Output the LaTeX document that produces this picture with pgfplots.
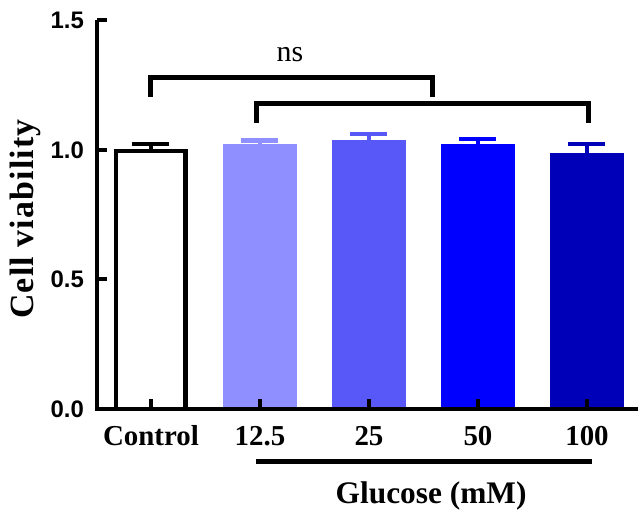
\documentclass[border=0pt]{standalone}
\usepackage{fontspec}
\usepackage{pgfplots}
\pgfplotsset{compat=1.18}
\setmainfont{Liberation Serif}
\newfontfamily\sansfam{Liberation Sans}
\definecolor{cA}{RGB}{143,143,255}
\definecolor{cB}{RGB}{88,88,248}
\definecolor{cC}{RGB}{0,0,255}
\definecolor{cD}{RGB}{0,0,184}
\pgfplotsset{
  gbar/.style={ybar, bar shift=0pt, bar width=0.665, fill=#1, draw=#1, line width=0.8bp,
    error bars/.cd, y dir=plus, y explicit, error mark=|,
    error bar style={line width=3.2bp, color=#1},
    error mark options={line width=4.3bp, mark size=18.5bp, color=#1}},
}
\begin{document}
\begin{tikzpicture}
\begin{axis}[
  x=109bp, y=259bp,
  xmin=-0.495, xmax=4.47, ymin=0, ymax=1.5,
  axis x line=bottom, axis y line=left,
  axis on top=true,
  axis line style={-, line width=4.3bp, black},
  tick style={black, line width=4bp},
  major tick length=10bp,
  tick align=inside,
  xtick={0,1,2,3,4}, xticklabels={Control,12.5,25,50,100},
  ytick={0,0.5,1,1.5},
  /pgf/number format/.cd, fixed, fixed zerofill, precision=1, assume math mode=true,
  /pgfplots/.cd,
  yticklabel style={font=\sansfam\bfseries\fontsize{24}{24}\selectfont, inner sep=0pt, xshift=-13bp},
  xticklabel style={font=\bfseries\fontsize{29}{30}\selectfont, anchor=base, inner sep=0pt, yshift=-37bp},
  ylabel={\addfontfeature{LetterSpace=3.5}Cell viability},
  every axis y label/.style={at={(axis cs:-1.156,0.734)}, rotate=90, anchor=center, font=\bfseries\fontsize{34}{36}\selectfont},
  clip=false,
]
\addplot[ybar, bar shift=0pt, bar width=0.635, fill=white, draw=black, line width=4.2bp,
  error bars/.cd, y dir=plus, y explicit, error mark=|,
  error bar style={line width=3.2bp, color=black},
  error mark options={line width=4.3bp, mark size=18.5bp, color=black}]
  coordinates {(0,0.997) +- (0,0.027)};
\addplot[gbar=cA] coordinates {(1,1.023) +- (0,0.013)};
\addplot[gbar=cB] coordinates {(2,1.036) +- (0,0.026)};
\addplot[gbar=cC] coordinates {(3,1.023) +- (0,0.018)};
\addplot[gbar=cD] coordinates {(4,0.985) +- (0,0.037)};
% axis frame, drawn thick
\draw[line width=4.3bp, line join=miter] (axis cs:-0.495,1.5) -- (axis cs:-0.495,0) -- (axis cs:4.47,0);
% significance brackets
\draw[line width=5bp] (axis cs:0,1.205) -- (axis cs:0,1.278) -- (axis cs:2.58,1.278) -- (axis cs:2.58,1.205);
\draw[line width=5bp] (axis cs:0.97,1.104) -- (axis cs:0.97,1.178) -- (axis cs:4.01,1.178) -- (axis cs:4.01,1.104);
\node[font=\fontsize{30}{32}\selectfont, anchor=base, inner sep=0pt] at (axis cs:1.275,1.34) {ns};
% group line and label
\draw[line width=4.2bp] (axis cs:0.963,-0.203) -- (axis cs:4.05,-0.203);
\node[font=\bfseries\fontsize{31.5}{32}\selectfont, anchor=base, inner sep=0pt] at (axis cs:2.57,-0.366) {Glucose (mM)};
\coordinate (bbA) at (axis cs:-1.385,-0.398);
\coordinate (bbB) at (axis cs:4.468,1.579);
\end{axis}
\pgfresetboundingbox
\useasboundingbox (bbA) rectangle (bbB);
\end{tikzpicture}
\end{document}
